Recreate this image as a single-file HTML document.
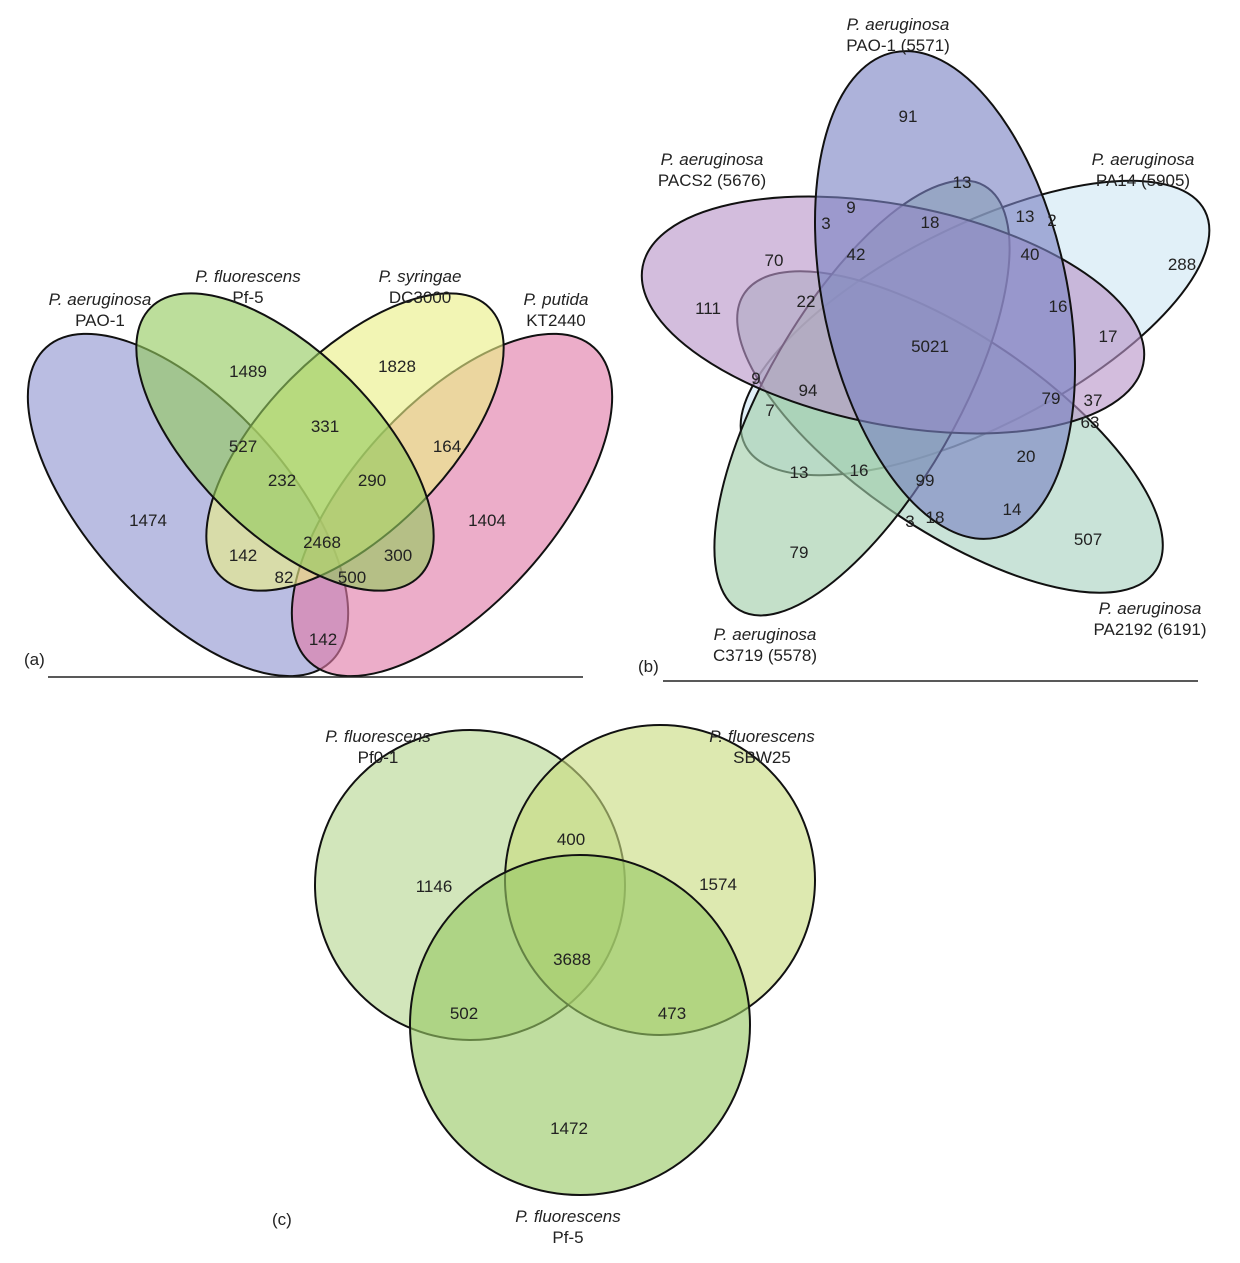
<!DOCTYPE html>
<html><head><meta charset="utf-8"><style>
html,body{margin:0;padding:0;background:#fff}
svg text{font-family:"Liberation Sans",sans-serif;font-size:17px;fill:#222}
.i{font-style:italic}
</style></head><body>
<svg width="1240" height="1258" viewBox="0 0 1240 1258" xmlns="http://www.w3.org/2000/svg">
<g stroke="#111" stroke-width="2" fill-opacity="0.62">
<!-- panel a -->
<ellipse cx="188" cy="505" rx="212" ry="100" transform="rotate(48 188 505)" fill="#8f94d0"/>
<ellipse cx="452" cy="505" rx="212" ry="100" transform="rotate(-48 452 505)" fill="#e07aa8"/>
<ellipse cx="355" cy="442" rx="190" ry="90" transform="rotate(-45 355 442)" fill="#eaef86"/>
<ellipse cx="285" cy="442" rx="190" ry="90" transform="rotate(45 285 442)" fill="#93c95e"/>
<!-- panel b -->
<ellipse cx="975" cy="328" rx="258" ry="100" transform="rotate(-27 975 328)" fill="#cfe6f3"/>
<ellipse cx="950" cy="432" rx="248" ry="98" transform="rotate(34 950 432)" fill="#a8d2c0"/>
<ellipse cx="862" cy="398" rx="245" ry="95" transform="rotate(-60 862 398)" fill="#a0cda8"/>
<ellipse cx="893" cy="315" rx="255" ry="110" transform="rotate(11 893 315)" fill="#b895c8"/>
<ellipse cx="945" cy="295" rx="248" ry="122" transform="rotate(78 945 295)" fill="#7a82c4"/>
<!-- panel c -->
<circle cx="470" cy="885" r="155" fill="#b6d692"/>
<circle cx="660" cy="880" r="155" fill="#c8dc80"/>
<circle cx="580" cy="1025" r="170" fill="#98c864"/>
</g>
<line x1="48" y1="677" x2="583" y2="677" stroke="#222" stroke-width="1.5"/>
<line x1="663" y1="681" x2="1198" y2="681" stroke="#222" stroke-width="1.5"/>
<!-- labels a -->
<text x="100" y="305" text-anchor="middle" class="i">P. aeruginosa</text>
<text x="100" y="326" text-anchor="middle">PAO-1</text>
<text x="248" y="282" text-anchor="middle" class="i">P. fluorescens</text>
<text x="248" y="303" text-anchor="middle">Pf-5</text>
<text x="420" y="282" text-anchor="middle" class="i">P. syringae</text>
<text x="420" y="303" text-anchor="middle">DC3000</text>
<text x="556" y="305" text-anchor="middle" class="i">P. putida</text>
<text x="556" y="326" text-anchor="middle">KT2440</text>
<g text-anchor="middle">
<text x="248" y="377">1489</text><text x="397" y="372">1828</text>
<text x="243" y="452">527</text><text x="325" y="432">331</text><text x="447" y="452">164</text>
<text x="282" y="486">232</text><text x="372" y="486">290</text>
<text x="148" y="526">1474</text><text x="487" y="526">1404</text>
<text x="322" y="548">2468</text><text x="243" y="561">142</text><text x="398" y="561">300</text>
<text x="284" y="583">82</text><text x="352" y="583">500</text><text x="323" y="645">142</text>
</g>
<text x="24" y="665">(a)</text>
<!-- labels b -->
<g text-anchor="middle">
<text x="898" y="30" class="i">P. aeruginosa</text><text x="898" y="51">PAO-1 (5571)</text>
<text x="712" y="165" class="i">P. aeruginosa</text><text x="712" y="186">PACS2 (5676)</text>
<text x="1143" y="165" class="i">P. aeruginosa</text><text x="1143" y="186">PA14 (5905)</text>
<text x="1150" y="614" class="i">P. aeruginosa</text><text x="1150" y="635">PA2192 (6191)</text>
<text x="765" y="640" class="i">P. aeruginosa</text><text x="765" y="661">C3719 (5578)</text>
<text x="908" y="122">91</text><text x="962" y="188">13</text>
<text x="851" y="213">9</text><text x="1025" y="222">13</text><text x="1052" y="226" font-size="13">2</text>
<text x="826" y="229">3</text><text x="930" y="228">18</text>
<text x="774" y="266">70</text><text x="856" y="260">42</text><text x="1030" y="260">40</text><text x="1182" y="270">288</text>
<text x="806" y="307">22</text><text x="708" y="314">111</text><text x="1058" y="312">16</text><text x="1108" y="342">17</text>
<text x="930" y="352">5021</text>
<text x="756" y="384">9</text><text x="808" y="396">94</text><text x="1051" y="404">79</text><text x="1093" y="406">37</text>
<text x="770" y="416">7</text><text x="1090" y="428">63</text>
<text x="1026" y="462">20</text><text x="799" y="478">13</text><text x="859" y="476">16</text><text x="925" y="486">99</text>
<text x="1012" y="515">14</text><text x="910" y="527">3</text><text x="935" y="523">18</text>
<text x="1088" y="545">507</text><text x="799" y="558">79</text>
</g>
<text x="638" y="672">(b)</text>
<!-- labels c -->
<g text-anchor="middle">
<text x="378" y="742" class="i">P. fluorescens</text><text x="378" y="763">Pf0-1</text>
<text x="762" y="742" class="i">P. fluorescens</text><text x="762" y="763">SBW25</text>
<text x="568" y="1222" class="i">P. fluorescens</text><text x="568" y="1243">Pf-5</text>
<text x="571" y="845">400</text><text x="434" y="892">1146</text><text x="718" y="890">1574</text>
<text x="572" y="965">3688</text><text x="464" y="1019">502</text><text x="672" y="1019">473</text>
<text x="569" y="1134">1472</text>
</g>
<text x="272" y="1225">(c)</text>
</svg>
</body></html>
